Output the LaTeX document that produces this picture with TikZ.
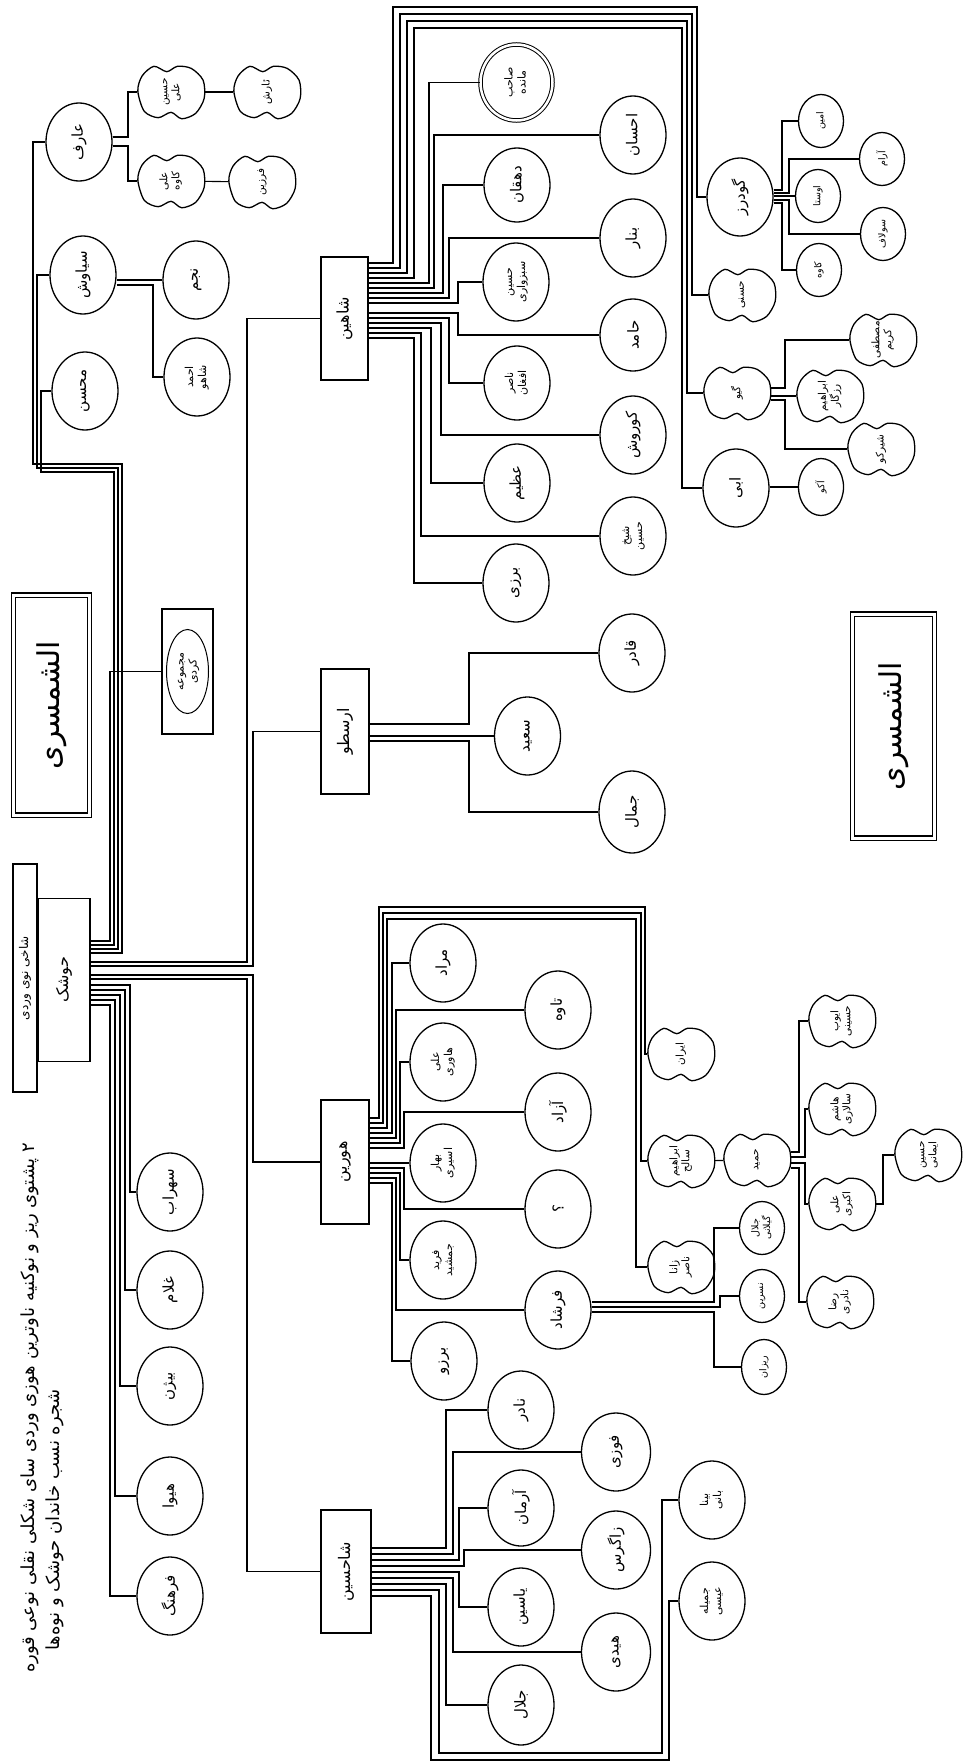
\documentclass[tikz,border=0pt]{standalone}
\usepackage{fontspec}
\usepackage{graphicx}
\usetikzlibrary{shapes.geometric}
\newfontfamily\arabicfont[Script=Arabic]{DejaVu Sans}
\TeXXeTstate=1
% names are written sideways, as on the sheet
\newcommand\nm[1]{\rotatebox{90}{\arabicfont\beginR#1\endR}}
\newcommand\nmm[2]{\rotatebox{90}{\arabicfont\begin{tabular}{@{}c@{}}\beginR#1\endR\\\beginR#2\endR\end{tabular}}}

\begin{document}
\begin{tikzpicture}[x=1pt, y=-1pt, line width=1.1pt,
  pers/.style={ellipse, draw, line width=1.3pt, inner sep=0pt, minimum width=66pt, minimum height=78pt, font=\fontsize{15}{17}\selectfont},
  two/.style={font=\fontsize{11}{13}\selectfont},
  sm/.style={pers, minimum width=45pt, minimum height=53pt, font=\fontsize{9.5}{11}\selectfont},
  blob/.style={rectangle, inner sep=0pt, minimum width=66pt, minimum height=54pt, font=\fontsize{10.5}{12}\selectfont},
  clan/.style={rectangle, draw, line width=1.3pt, inner sep=0pt, minimum width=48pt, minimum height=124pt, font=\fontsize{16}{18}\selectfont},
  plate/.style={rectangle, draw, double, line width=1.2pt, double distance=3pt, minimum width=76pt, minimum height=220pt, font=\fontsize{30}{32}\selectfont}]

\fill[white] (0,0) rectangle (963,1764);
\useasboundingbox (0,0) rectangle (963,1764);

% heading and root
\node[font=\fontsize{18}{20}\selectfont] (title1) at (30,1408) {\nm{۲ پشتوی ریز و نوکنیه ناوترین هوزی وردی سای شکلی نقلی نوعی قوره}};
\node[font=\fontsize{18}{20}\selectfont] (title2) at (55,1520) {\nm{شجره نسب خاندان حوشک و نوه‌ها}};
\node[rectangle, draw, line width=1.3pt, minimum width=24pt, minimum height=228pt, inner sep=0pt, font=\fontsize{12}{14}\selectfont] (bar) at (25,978) {\nm{شاخی نوی وردی}};
\node[clan, minimum width=52pt, minimum height=163pt] (root) at (64,980) {\nm{حوشک}};
\node[plate] (plateL) at (51.5,705) {\nm{الشمسری}};
\node[plate, minimum width=82pt, minimum height=224pt] (plateR) at (893.5,726) {\nm{الشمسری}};

% upper left
\node[pers] (arif) at (79,142) {\nm{عارف}};
\node[pers] (siavash) at (83,275) {\nm{سیاوش}};
\node[pers] (mohsen) at (85,391) {\nm{محسن}};
\node[blob] (a1) at (171,92) {\nmm{حسین}{علی}};
\node[blob] (a2) at (267,92) {\nm{ئارش}};
\node[blob] (a3) at (171,181) {\nmm{علی}{کاوه}};
\node[blob] (a4) at (262,182) {\nm{فرزین}};
\node[pers] (s1) at (196,280) {\nm{نجم}};
\node[pers, two] (s2) at (197,377) {\nmm{احمد}{شاهو}};
\node[clan, minimum width=51pt, minimum height=125pt] (kurdi) at (187.5,671.5) {};
\node[pers, line width=1pt, minimum width=42pt, minimum height=84pt, two] (kurdiname) at (kurdi.center) {\nmm{مجموعه}{کردی}};

% lower left
\node[pers] (c1) at (170,1192) {\nm{سهراب}};
\node[pers] (c2) at (170,1290) {\nm{غلام}};
\node[pers] (c3) at (170,1386) {\nm{بیژن}};
\node[pers] (c4) at (170,1496) {\nm{هیوا}};
\node[pers] (c5) at (170,1596) {\nm{فرهنگ}};

% the four houses
\node[clan, minimum width=47pt, minimum height=123pt] (shamin) at (344.5,318.5) {\nm{شاهین}};
\node[clan, minimum height=125pt] (arastu) at (345,731.5) {\nm{ارسطو}};
\node[clan] (hourin) at (345,1162) {\nm{هورین}};
\node[clan, minimum width=50pt, minimum height=123pt] (shakhsin) at (346,1571.5) {\nm{شاحسین}};

% shahin
\node[pers, two, double, line width=1pt, double distance=2.5pt, minimum width=72pt, minimum height=76pt] (dc) at (516.5,82.5) {\nmm{صاحب}{مانده}};
\node[pers, minimum height=74pt] (dehqan) at (517,185) {\nm{دهقان}};
\node[pers, two] (hoseyn1) at (516,282) {\nmm{حسین}{سبزواری}};
\node[pers, two, minimum height=74pt] (naser) at (517,383) {\nmm{ناصر}{افغان}};
\node[pers] (atiye) at (517,483) {\nm{عظیم}};
\node[pers] (barzi) at (516,583) {\nm{برزی}};
\node[pers] (ehsan) at (633,135) {\nm{احسان}};
\node[pers] (benar) at (633,238) {\nm{بنار}};
\node[pers, minimum height=72pt] (hamed) at (633,335) {\nm{حامد}};
\node[pers] (kourosh) at (633,435) {\nm{کوروش}};
\node[pers, two] (hoseyn2) at (633,536) {\nmm{شیخ}{حسین}};
\node[pers] (gudarz) at (740,197) {\nm{گودرز}};
\node[blob] (hasani) at (742,295) {\nm{حسنی}};
\node[blob] (giv) at (737,393) {\nm{گیو}};
\node[pers] (abi) at (736,488) {\nm{ابی}};
\node[sm] (g1) at (821,121) {\nm{امین}};
\node[sm] (g2) at (882,159) {\nm{آرام}};
\node[sm] (g3) at (818,196) {\nm{اوستا}};
\node[sm] (g4) at (883,234) {\nm{سولاف}};
\node[sm] (g5) at (819,270) {\nm{کاوه}};
\node[blob] (v1) at (883,340) {\nmm{مصطفی}{کریم}};
\node[blob] (v2) at (830,396) {\nmm{ابراهیم}{رزگار}};
\node[blob] (v3) at (881,449) {\nm{شیرکو}};
\node[sm, minimum height=57pt] (ab1) at (821,487) {\nm{آکو}};

% arastu
\node[pers] (saeed) at (527.5,736) {\nm{سعید}};
\node[pers] (qader) at (632,653) {\nm{قادر}};
\node[pers, minimum height=82pt] (jamal) at (632,812) {\nm{جمال}};

% hourin
\node[pers] (h1) at (443,963) {\nm{مراد}};
\node[pers, two] (h2) at (443,1062) {\nmm{علی}{هاوری}};
\node[pers, two] (h3) at (443,1163) {\nmm{بهار}{اسیری}};
\node[pers, two] (h4) at (443,1260) {\nmm{فرید}{جمشید}};
\node[pers] (h5) at (444,1361) {\nm{برزو}};
\node[pers] (t1) at (558,1010) {\nm{تاوه}};
\node[pers] (t2) at (558,1112) {\nm{آزاد}};
\node[pers] (t3) at (558,1209) {\nm{؟}};
\node[pers] (t4) at (558,1310) {\nm{فرشاد}};
\node[blob] (ha1) at (681,1054) {\nm{ایران}};
\node[blob] (ha2) at (681,1161) {\nmm{ابراهیم}{سالح}};
\node[blob] (ha3) at (681,1267) {\nmm{زانا}{ناصر}};
\node[blob] (hb) at (757,1160) {\nm{حمید}};
\node[blob] (b1) at (842,1021) {\nmm{ایوب}{حسینی}};
\node[blob] (b2) at (842,1109) {\nmm{هاشم}{سالاری}};
\node[blob] (b3) at (842,1204) {\nmm{علی}{اکبری}};
\node[blob] (b4) at (840,1302) {\nmm{رضا}{نادری}};
\node[blob] (bc) at (928,1155) {\nmm{حسین}{ایمانی}};
\node[sm] (f1) at (762,1228) {\nmm{جلال}{گیلانی}};
\node[sm] (f2) at (762,1296) {\nm{نسرین}};
\node[sm, minimum height=55pt] (f3) at (764,1367) {\nm{ریزان}};

% shakhsin
\node[pers] (k1) at (521,1410) {\nm{نادر}};
\node[pers, minimum height=76pt] (k2) at (521,1508) {\nm{آرمان}};
\node[pers] (k3) at (521,1607) {\nm{یاسین}};
\node[pers, minimum height=80pt] (k4) at (521,1705) {\nm{جلال}};
\node[pers, minimum width=69pt] (q1) at (616,1452) {\nm{فوزی}};
\node[pers, minimum width=69pt] (q2) at (616,1550) {\nm{زاگرس}};
\node[pers, minimum width=69pt] (q3) at (616,1652) {\nm{هیدی}};
\node[pers, two] (u1) at (712,1500) {\nmm{بینا}{بانی}};
\node[pers, two] (u2) at (712,1601) {\nmm{جمیله}{عیسی}};

% peanut outlines round the blob names
\foreach \b in {a1,a2,a3,a4,hasani,giv,v1,v2,v3,ha1,ha2,ha3,hb,b1,b2,b3,b4,bc}
  \draw[line width=1.3pt, shift={(\b.center)}, scale=1.07] plot[smooth cycle] coordinates
    {(-31pt,1pt) (-27pt,15pt) (-16pt,24pt) (-4pt,19pt) (6pt,24pt) (19pt,22pt) (30pt,11pt) (31pt,-6pt)
     (23pt,-20pt) (10pt,-25pt) (0pt,-19pt) (-12pt,-24pt) (-25pt,-18pt)};

% root lines
\draw (root.east |- 0,941) -- (110,941) |- (kurdi.west);
\foreach \who/\ey/\vx/\ty/\wx in {mohsen/945/114/472/41, siavash/949/118/468/37, arif/953/122/464/33}
  \draw (root.east |- 0,\ey) -- (\vx,\ey) -- (\vx,\ty) -- (\wx,\ty) |- (\who.west);
\foreach \who/\ey/\vx in {shamin/962/247, arastu/966/253, hourin/975/253, shakhsin/979/247,
    c1/985/130, c2/990/125, c3/995/120, c4/1000/115, c5/1005/110}
  \draw (root.east |- 0,\ey) -- (\vx,\ey) |- (\who.west);

% upper left lines
\draw (arif.east |- 0,137) -- (128,137) |- (a1.west);
\draw (arif.east |- 0,146) -- (128,146) |- (a3.west);
\draw (a1) -- (a2);
\draw (a3) -- (a4);
\draw (siavash.east |- s1.west) -- (s1.west);
\draw (siavash.east |- 0,285) -- (153,285) |- (s2.west);

% shahin lines
\foreach \who/\ey/\vx/\ty/\dx in {gudarz/263/393/7/697, hasani/268/400/14/692, giv/273/407/21/687, abi/278/414/28/682}
  \draw (shamin.east |- 0,\ey) -- (\vx,\ey) -- (\vx,\ty) -- (\dx,\ty) |- (\who.west);
\foreach \who/\ey/\vx in {dc/283/429, ehsan/288/434, dehqan/293/443, benar/298/449, hoseyn1/303/458,
    hamed/313/458, naser/318/449, kourosh/323/441, atiye/328/431, hoseyn2/333/421, barzi/338/414}
  \draw (shamin.east |- 0,\ey) -- (\vx,\ey) |- (\who.west);
\foreach \who/\ey/\vx in {g1/190/782, g2/193/789, g4/200/789, g5/203/782}
  \draw (gudarz.east |- 0,\ey) -- (\vx,\ey) |- (\who.west);
\draw (gudarz.east |- g3.west) -- (g3.west);
\draw (giv.east |- 0,388) -- (785,388) |- (v1.west);
\draw (giv.east |- v2.west) -- (v2.west);
\draw (giv.east |- 0,400) -- (785,400) |- (v3.west);
\draw (abi.east |- ab1.west) -- (ab1.west);

% arastu lines
\draw (arastu.east |- 0,724) -- (469,724) |- (qader.west);
\draw (arastu.east |- saeed.west) -- (saeed.west);
\draw (arastu.east |- 0,741) -- (469,741) |- (jamal.west);

% hourin lines
\foreach \who/\ey/\vx/\ty/\dx in {ha1/1118/379/907/645, ha2/1123/383/913/641, ha3/1128/387/919/636}
  \draw (hourin.east |- 0,\ey) -- (\vx,\ey) -- (\vx,\ty) -- (\dx,\ty) |- (\who.west);
\foreach \who/\ey/\vx in {h1/1133/392, t1/1138/396, h2/1143/400, t2/1148/404,
    t3/1168/404, h4/1173/400, t4/1178/396, h5/1183/392}
  \draw (hourin.east |- 0,\ey) -- (\vx,\ey) |- (\who.west);
\draw (hourin.east |- h3.west) -- (h3.west);
\draw (ha2) -- (hb);
\foreach \who/\ey/\vx in {b1/1152/799, b2/1157/805, b3/1163/805, b4/1168/799}
  \draw (hb.east |- 0,\ey) -- (\vx,\ey) |- (\who.west);
\draw (b3.east) -- (b3.east -| 883,0) |- (bc.west);
\foreach \who/\ey/\vx in {f1/1302/714, f2/1307/720, f3/1312/714}
  \draw (t4.east |- 0,\ey) -- (\vx,\ey) |- (\who.west);

% shakhsin lines
\foreach \who/\ey/\vx in {k1/1548/446, q1/1554/453, k2/1560/459, q2/1566/464,
    k3/1572/459, q3/1578/453, k4/1584/446}
  \draw (shakhsin.east |- 0,\ey) -- (\vx,\ey) |- (\who.west);
\draw (shakhsin.east |- 0,1590) -- (439,1590) -- (439,1753) -- (662,1753) |- (u1.west);
\draw (shakhsin.east |- 0,1596) -- (431,1596) -- (431,1760) -- (669,1760) |- (u2.west);
\end{tikzpicture}
\end{document}
